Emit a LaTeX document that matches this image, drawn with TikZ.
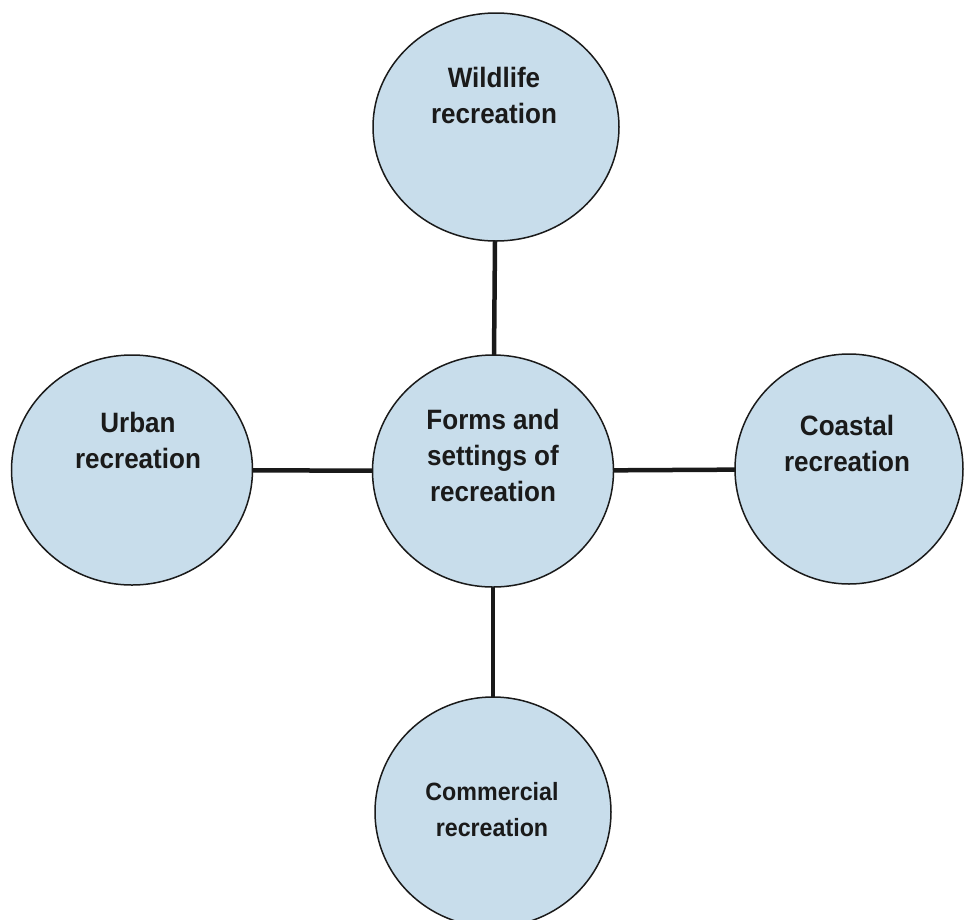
\documentclass[tikz,border=0pt]{standalone}
\usepackage{fontspec}
\setmainfont{Liberation Sans}[FakeStretch=0.93]
\usetikzlibrary{shapes.geometric}

\definecolor{bubblefill}{HTML}{C8DDEB}
\definecolor{inkline}{HTML}{1A1A1A}

\pgfdeclarelayer{back}
\pgfsetlayers{back,main}

\tikzset{
  bubble/.style={ellipse, draw=inkline, line width=1.5pt, fill=bubblefill, inner sep=0pt},
  caption/.style={align=center, font=\fontsize{28}{36}\selectfont\bfseries, text=inkline},
  smallcaption/.style={align=center, font=\fontsize{25}{36}\selectfont\bfseries, text=inkline},
  link/.style={draw=black!90, line width=4.5pt}
}

\begin{document}
\begin{tikzpicture}[x=1pt, y=-1pt]
  \useasboundingbox (0,0) rectangle (964,919);
  \begin{scope}
    \clip (0,0) rectangle (964,919);

    % bubbles
    \node[bubble, minimum width=246pt, minimum height=228pt] (wild) at (496,127) {};
    \node[bubble, minimum width=241pt, minimum height=232pt] (hub) at (493,471) {};
    \node[bubble, minimum width=241pt, minimum height=230pt] (urban) at (132,470) {};
    \node[bubble, minimum width=228pt, minimum height=230pt] (coast) at (849,469) {};
    \node[bubble, minimum width=236pt, minimum height=230pt] (comm) at (493,812) {};

    % spokes from the hub, kept behind the bubbles
    \begin{pgfonlayer}{back}
      \draw[link] (wild.center) -- (hub.center);
      \draw[link] (urban.center) -- (hub.center);
      \draw[link] (coast.center) -- (hub.center);
      \draw[link] (comm.center) -- (hub.center);
    \end{pgfonlayer}

    % labels
    \node[caption] (wildtxt) at (494,95) {Wildlife\\recreation};
    \node[caption] (hubtxt) at (493,455) {Forms and\\settings of\\recreation};
    \node[caption] (urbantxt) at (138,440) {Urban\\recreation};
    \node[caption] (coasttxt) at (847,443) {Coastal\\recreation};
    \node[smallcaption] (commtxt) at (492,810) {Commercial\\recreation};
  \end{scope}
\end{tikzpicture}
\end{document}
